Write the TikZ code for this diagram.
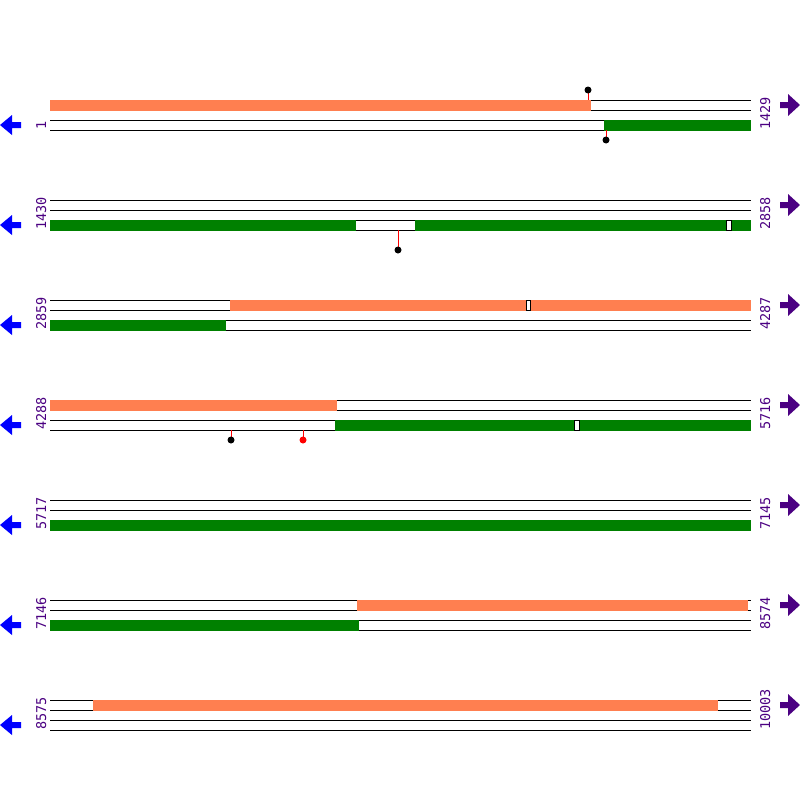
\documentclass[tikz,border=0pt]{standalone}
\usepackage{fontspec}
\newfontfamily\monofont{DejaVu Sans Mono}
\definecolor{coral}{RGB}{255,127,80}
\definecolor{gbar}{RGB}{0,128,0}
\definecolor{indig}{RGB}{75,0,130}
\begin{document}
\begin{tikzpicture}[x=1pt,y=-1pt,
  strand/.style={black,line width=1pt},
  fwd/.style={fill=coral},
  rev/.style={fill=gbar},
  gapbox/.style={draw=black,fill=white,line width=0.8pt},
  stem/.style={red,line width=1pt},
  dotk/.style={fill=black},
  dotr/.style={fill=red},
  lab/.style={rotate=90,anchor=base west,inner sep=0pt,text=indig,font=\monofont\fontsize{13.5}{14}\selectfont},
  larr/.style={fill=blue},
  rarr/.style={fill=indig}]
\useasboundingbox (0,0) rectangle (800,800);
\fill[white] (0,0) rectangle (800,800);
% rows
\foreach \y/\a/\b in {100/1/1429,200/1430/2858,300/2859/4287,400/4288/5716,500/5717/7145,600/7146/8574,700/8575/10003}{
  \foreach \d in {0,10,20,30}{\draw[strand] (50,\y+\d) -- (751,\y+\d);}
  \node[lab] (l\y) at (46,\y+30) {\a};
  \node[lab] (r\y) at (770,\y+30) {\b};
  \fill[larr] (0,\y+25) -- (12,\y+15) -- (12,\y+22) -- (21,\y+22) -- (21,\y+28) -- (12,\y+28) -- (12,\y+35) -- cycle;
  \fill[rarr] (800,\y+5) -- (788,\y-6) -- (788,\y+2) -- (780,\y+2) -- (780,\y+8) -- (788,\y+8) -- (788,\y+16) -- cycle;
}
% row 1
\fill[fwd] (50,99.5) rectangle (590.5,110.5);
\fill[rev] (604,119.5) rectangle (751,130.5);
\draw[stem] (588,90) -- (588,100);
\fill[dotk] (588,90) circle (3.5);
\draw[stem] (606,130) -- (606,140);
\fill[dotk] (606,140) circle (3.5);
% row 2
\fill[rev] (50,219.5) rectangle (356,230.5);
\fill[rev] (415,219.5) rectangle (751,230.5);
\draw[gapbox] (726.5,220) rectangle (731.5,230);
\draw[stem] (398,230) -- (398,250);
\fill[dotk] (398,250) circle (3.5);
% row 3
\fill[fwd] (230,299.5) rectangle (751,310.5);
\draw[gapbox] (526.5,300) rectangle (530.5,310);
\fill[rev] (50,319.5) rectangle (226,330.5);
% row 4
\fill[fwd] (50,399.5) rectangle (337,410.5);
\fill[rev] (335,419.5) rectangle (751,430.5);
\draw[gapbox] (574.5,420) rectangle (579.5,430);
\draw[stem] (231,430) -- (231,440);
\fill[dotk] (231,440) circle (3.5);
\draw[stem] (303,430) -- (303,440);
\fill[dotr] (303,440) circle (3.5);
% row 5
\fill[rev] (50,519.5) rectangle (751,530.5);
% row 6
\fill[fwd] (357,599.5) rectangle (748,610.5);
\fill[rev] (50,619.5) rectangle (359,630.5);
% row 7
\fill[fwd] (93,699.5) rectangle (718,710.5);
\end{tikzpicture}
\end{document}
